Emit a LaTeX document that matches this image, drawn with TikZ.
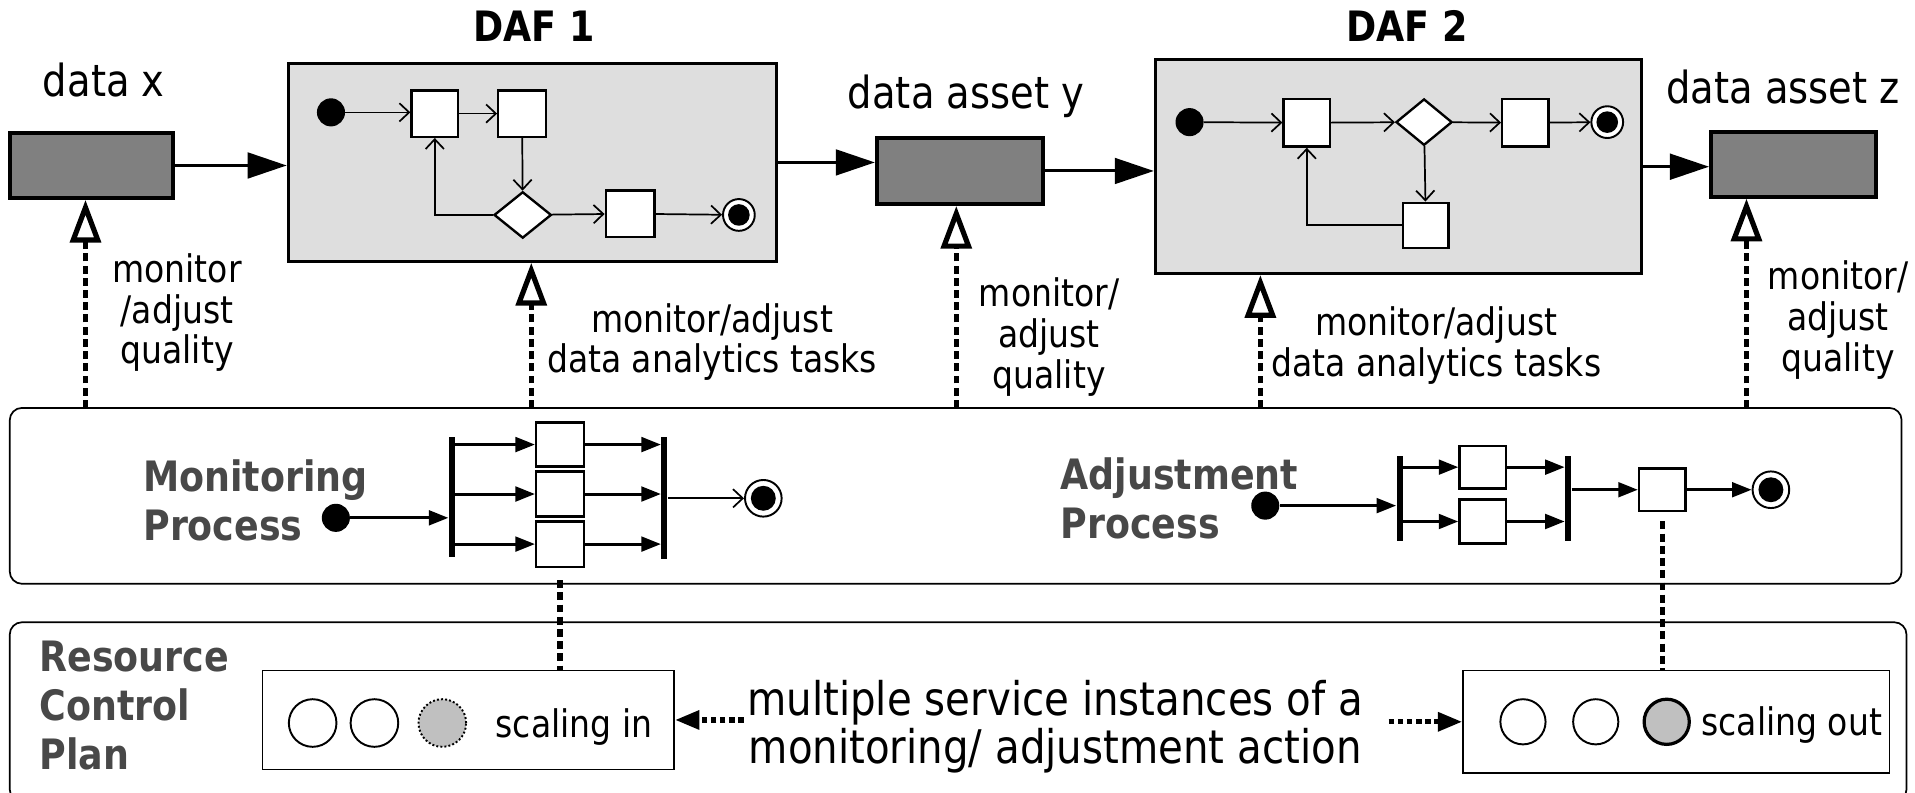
\documentclass[tikz,border=0pt]{standalone}
\usepackage{fontspec}
\setmainfont{DejaVu Sans}[FakeStretch=0.87]
\usepackage{tikz}
\usetikzlibrary{arrows.meta}
\usetikzlibrary{positioning}
\usetikzlibrary{shapes.geometric}
\usepackage{xcolor}

\definecolor{datafill}{HTML}{808080}
\definecolor{daffill}{HTML}{DEDEDE}
\definecolor{procgray}{HTML}{484848}
\definecolor{instfill}{HTML}{C0C0C0}

\newcommand{\txtnote}{\fontsize{17.7pt}{19pt}\selectfont}
\newcommand{\txtlabel}{\fontsize{20.6pt}{24pt}\selectfont}
\newcommand{\txtmsg}{\fontsize{21.6pt}{22.2pt}\selectfont}
\newcommand{\txthead}{\fontsize{19.5pt}{22.8pt}\selectfont\bfseries}

\begin{document}
\begin{tikzpicture}[
    x=0.2mm, y=-0.2mm,
    flow/.style={-{Triangle[length=6.4mm,width=4.2mm]}, line width=1.4pt},
    watch/.style={-{Triangle[open,length=7mm,width=5mm]}, line width=2.4pt, dash pattern=on 1.3mm off 0.7mm},
    tie/.style={line width=2.4pt, dash pattern=on 1.3mm off 0.7mm},
    ctrl/.style={-{Straight Barb[length=1.6mm,width=3mm]}, line width=0.8pt},
    par/.style={-{Triangle[length=3.2mm,width=2.4mm]}, line width=1.4pt},
    dotarrow/.style={-{Triangle[length=4mm,width=3mm]}, line width=2.5pt, dash pattern=on 0.9mm off 0.6mm},
    databox/.style={draw, fill=datafill, line width=1.9pt, inner sep=0},
    dafbox/.style={draw, fill=daffill, line width=1.4pt, inner sep=0},
    act/.style={draw, fill=white, line width=1.1pt, inner sep=0},
    gate/.style={diamond, draw, fill=white, line width=1.1pt, inner sep=0, minimum width=9.4mm, minimum height=7.6mm},
    start/.style={circle, fill=black, inner sep=0, minimum size=4.6mm},
    finish/.style={circle, draw, fill=white, line width=0.9pt, inner sep=0, minimum size=#1,
        path picture={\fill[black] (path picture bounding box.center) circle (0.34*#1);}},
    finish/.default=5.4mm,
    bar/.style={fill=black, inner sep=0, minimum width=1mm},
    panel/.style={draw, rounded corners=2mm, line width=0.8pt, inner sep=0},
    plainbox/.style={draw, line width=0.8pt, inner sep=0},
    inst/.style={circle, draw, line width=0.9pt, inner sep=0, minimum size=7.8mm},
    note/.style={font=\txtnote, align=center, inner sep=0},
    head/.style={font=\txthead, text=procgray, align=left, inner sep=0}
]
    \useasboundingbox (0,0) rectangle (1568,649);

    % Data assets and analytics flows
    \node[databox, minimum width=26.8mm, minimum height=10.6mm] (dx) at (75,135.5) {};
    \node[dafbox, minimum width=80mm, minimum height=32.4mm] (daf1) at (436,133) {};
    \node[databox, minimum width=27.2mm, minimum height=10.8mm] (dy) at (786,140) {};
    \node[dafbox, minimum width=79.6mm, minimum height=35mm] (daf2) at (1145,136.5) {};
    \node[databox, minimum width=27mm, minimum height=10.6mm] (dz) at (1468.5,134.5) {};

    \node[font=\txtlabel, anchor=base] (lx) at (85,79) {data x};
    \node[font=\txtlabel, anchor=base] (ly) at (791,89) {data asset y};
    \node[font=\txtlabel, anchor=base] (lz) at (1460,85) {data asset z};
    \node[font=\txthead, anchor=base] (h1) at (437,34) {DAF 1};
    \node[font=\txthead, anchor=base] (h2) at (1152,34) {DAF 2};

    \draw[flow] (dx.east) -- (dx.east -| daf1.west);
    \draw[flow] (daf1.east) -- (daf1.east -| dy.west);
    \draw[flow] (dy.east) -- (dy.east -| daf2.west);
    \draw[flow] (daf2.east) -- (daf2.east -| dz.west);

    % DAF 1
    \node[start] (s1) at (271,92) {};
    \node[act, minimum width=7.6mm, minimum height=7.6mm] (a1) at (356,93) {};
    \node[act, minimum width=7.8mm, minimum height=7.6mm] (a2) at (427.5,93) {};
    \node[gate] (d1) at (428,176) {};
    \node[act, minimum width=8mm, minimum height=7.6mm] (a3) at (516,175) {};
    \node[finish=5.2mm] (e1) at (605,176) {};
    \draw[ctrl] (s1) -- (s1 -| a1.west);
    \draw[ctrl] (a1) -- (a2);
    \draw[ctrl] (a2) -- (d1);
    \draw[ctrl] (d1) -- (a3);
    \draw[ctrl] (a3) -- (e1);
    \draw[ctrl] (d1.west) -| (a1.south);

    % DAF 2
    \node[start] (s2) at (974,100) {};
    \node[act, minimum width=7.6mm, minimum height=7.8mm] (b1) at (1070,100.5) {};
    \node[gate, minimum width=9.2mm] (d2) at (1166,100) {};
    \node[act, minimum width=7.6mm, minimum height=7.8mm] (b2) at (1249,100.5) {};
    \node[finish=5.2mm] (e2) at (1316,100) {};
    \node[act, minimum width=7.4mm, minimum height=7.4mm] (b3) at (1167.5,184.5) {};
    \draw[ctrl] (s2) -- (b1);
    \draw[ctrl] (b1) -- (d2);
    \draw[ctrl] (d2) -- (b2);
    \draw[ctrl] (b2) -- (e2);
    \draw[ctrl] (d2) -- (b3);
    \draw[ctrl] (b3.west) -| (b1.south);

    % Panels
    \node[panel, minimum width=309.8mm, minimum height=28.8mm] (mid) at (782.5,406) {};
    \node[panel, minimum width=310.6mm, minimum height=29.4mm] (low) at (784.5,583) {};

    % Monitor / adjust links
    \coordinate (q1) at (70,334);
    \coordinate (q2) at (435,334);
    \coordinate (q3) at (783,334);
    \coordinate (q4) at (1032,334);
    \coordinate (q5) at (1430,334);
    \draw[watch] (q1) -- (q1 |- dx.south);
    \draw[watch] (q2) -- (q2 |- daf1.south);
    \draw[watch] (q3) -- (q3 |- dy.south);
    \draw[watch] (q4) -- (q4 |- daf2.south);
    \draw[watch] (q5) -- (q5 |- dz.south);

    \node[note] (n1) at (145,256) {monitor\\/adjust\\quality};
    \node[note] (n2) at (583,280) {monitor/adjust\\data analytics tasks};
    \node[note] (n3) at (859,276) {monitor/\\adjust\\quality};
    \node[note] (n4) at (1176,283) {monitor/adjust\\data analytics tasks};
    \node[note] (n5) at (1505,262) {monitor/\\adjust\\quality};

    % Monitoring process
    \node[head, anchor=west] (mlab) at (117,410) {Monitoring\\Process};
    \node[start] (ms) at (275,424) {};
    \node[bar, minimum height=19.6mm] (mf) at (370,407) {};
    \node[act, minimum width=7.8mm, minimum height=7.2mm] (mb1) at (458.5,364) {};
    \node[act, minimum width=7.8mm, minimum height=7.4mm] (mb2) at (458.5,404.5) {};
    \node[act, minimum width=7.8mm, minimum height=7.4mm] (mb3) at (458.5,445.5) {};
    \node[bar, minimum height=20mm] (mj) at (544,408) {};
    \node[finish=6mm] (me) at (625,408) {};
    \draw[par] (ms) -- (ms -| mf.west);
    \draw[par] (mf.east |- mb1) -- (mb1);
    \draw[par] (mf.east |- mb2) -- (mb2);
    \draw[par] (mf.east |- mb3) -- (mb3);
    \draw[par] (mb1) -- (mb1 -| mj.west);
    \draw[par] (mb2) -- (mb2 -| mj.west);
    \draw[par] (mb3) -- (mb3 -| mj.west);
    \draw[ctrl] (mj) -- (me);

    % Adjustment process
    \node[head, anchor=west] (alab) at (868,408) {Adjustment\\Process};
    \node[start] (as) at (1036,414) {};
    \node[bar, minimum height=14mm] (af) at (1146,408) {};
    \node[act, minimum width=7.6mm, minimum height=7mm] (ab1) at (1214,382.5) {};
    \node[act, minimum width=7.6mm, minimum height=7.2mm] (ab2) at (1214,427) {};
    \node[bar, minimum height=14mm] (aj) at (1284,408) {};
    \node[act, minimum width=7.6mm, minimum height=7mm] (ab3) at (1361,401) {};
    \node[finish=6mm] (ae) at (1450,401) {};
    \draw[par] (as) -- (as -| af.west);
    \draw[par] (af.east |- ab1) -- (ab1);
    \draw[par] (af.east |- ab2) -- (ab2);
    \draw[par] (ab1) -- (ab1 -| aj.west);
    \draw[par] (ab2) -- (ab2 -| aj.west);
    \draw[par] (aj.east |- ab3) -- (ab3);
    \draw[par] (ab3) -- (ae);

    % Resource control plan
    \node[head, anchor=west] (rlab) at (32,578) {Resource\\Control\\Plan};
    \node[plainbox, minimum width=67.4mm, minimum height=16.2mm] (sin) at (383.5,589.5) {};
    \node[inst] (i1) at (256,592) {};
    \node[inst, right=2mm of i1] (i2) {};
    \node[inst, right=3mm of i2, fill=instfill, densely dotted] (i3) {};
    \node[font=\txtnote, anchor=base] (sinl) at (470,604) {scaling in};

    \node[plainbox, minimum width=69.8mm, minimum height=16.8mm] (sout) at (1372.5,591) {};
    \node[inst, minimum size=7.4mm] (o1) at (1247,591) {};
    \node[inst, minimum size=7.4mm, right=4.2mm of o1] (o2) {};
    \node[inst, minimum size=7.4mm, right=3.8mm of o2, fill=instfill, line width=1.5pt] (o3) {};
    \node[font=\txtnote, anchor=base] (soutl) at (1467,602) {scaling out};

    \node[font=\txtmsg, align=center, inner sep=0.5mm] (msg) at (864,595) {multiple service instances of a\\monitoring/ adjustment action};
    \draw[dotarrow] (msg.west |- sin.east) -- (sin.east);
    \draw[dotarrow, shorten <=3.6mm] (msg.east |- sout.west) -- (sout.west);

    \draw[tie, shorten <=2mm] (mb3.south) -- (mb3.south |- sin.north);
    \draw[tie, shorten <=1.5mm] (ab3.south) -- (ab3.south |- sout.north);
\end{tikzpicture}
\end{document}
